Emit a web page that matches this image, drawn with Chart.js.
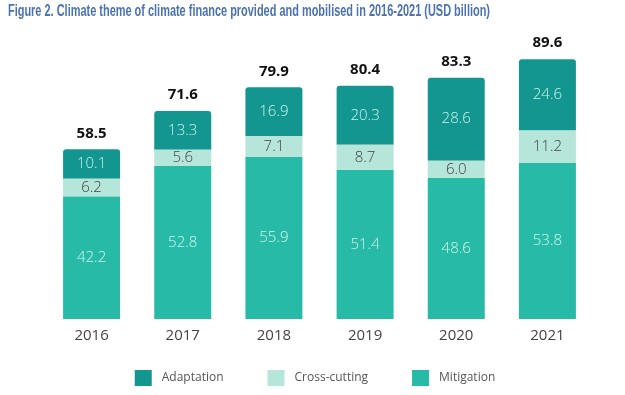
<!DOCTYPE html>
<html>
<head>
<meta charset="utf-8">
<script src="https://cdn.jsdelivr.net/npm/chart.js@4"></script>
<style>
  body { margin: 0; background: #fff; }
  #wrap { width: 625px; height: 395px; position: relative; }
</style>
</head>
<body>
<div id="wrap"><canvas id="grafico" width="625" height="395"></canvas></div>
<script>
// Dados
const anos = ["2016", "2017", "2018", "2019", "2020", "2021"];
const mitigacao = [42.2, 52.8, 55.9, 51.4, 48.6, 53.8];
const transversal = [6.2, 5.6, 7.1, 8.7, 6.0, 11.2];
const adaptacao = [10.1, 13.3, 16.9, 20.3, 28.6, 24.6];
const totais = [58.5, 71.6, 79.9, 80.4, 83.3, 89.6];

const titulo = "Figure 2. Climate theme of climate finance provided and mobilised in 2016-2021 (USD billion)";

// Rótulos nas barras, totais, título e legenda
const rotulos = {
  id: "rotulos",
  afterDatasetsDraw(chart) {
    const ctx = chart.ctx;
    ctx.save();
    ctx.textAlign = "center";
    ctx.textBaseline = "middle";
    chart.data.datasets.forEach((ds, i) => {
      const meta = chart.getDatasetMeta(i);
      meta.data.forEach((bar, j) => {
        ctx.font = "300 15px 'Open Sans'";
        ctx.fillStyle = ds.corTexto;
        ctx.fillText(ds.data[j].toFixed(1), bar.x, (bar.y + bar.base) / 2);
        if (i === chart.data.datasets.length - 1) {
          ctx.font = "bold 15px 'Open Sans'";
          ctx.fillStyle = "#111";
          ctx.fillText(totais[j].toFixed(1), bar.x, bar.y - 16);
        }
      });
    });
    ctx.restore();
  },
  afterDraw(chart) {
    const ctx = chart.ctx;
    // título condensado
    ctx.save();
    ctx.font = "bold 16px 'Liberation Sans'";
    ctx.fillStyle = "#4a72b0";
    ctx.textAlign = "left";
    ctx.textBaseline = "middle";
    const w = ctx.measureText(titulo).width;
    ctx.translate(8, 12);
    ctx.scale(482 / w, 1);
    ctx.fillText(titulo, 0, 0);
    ctx.restore();

    // legenda
    ctx.save();
    ctx.font = "12px 'Open Sans'";
    ctx.textBaseline = "middle";
    ctx.textAlign = "left";
    const itens = chart.data.datasets.slice().reverse();
    const larguras = itens.map(ds => 17 + 10 + ctx.measureText(ds.label).width);
    const total = larguras.reduce((a, b) => a + b, 0) + 44 * (itens.length - 1);
    let x = 315 - total / 2;
    const y = 378;
    itens.forEach((ds, k) => {
      ctx.fillStyle = ds.backgroundColor;
      ctx.fillRect(x, y - 8, 17, 16);
      ctx.fillStyle = "#555";
      ctx.fillText(ds.label, x + 27, y);
      x += larguras[k] + 44;
    });
    ctx.restore();
  }
};

const ctx = document.getElementById("grafico").getContext("2d");
new Chart(ctx, {
  type: "bar",
  data: {
    labels: anos,
    datasets: [
      {
        label: "Mitigation",
        data: mitigacao,
        backgroundColor: "#27bba7",
        corTexto: "#d2f4ef"
      },
      {
        label: "Cross-cutting",
        data: transversal,
        backgroundColor: "#b6e5da",
        corTexto: "#444"
      },
      {
        label: "Adaptation",
        data: adaptacao,
        backgroundColor: "#149690",
        borderRadius: { topLeft: 3, topRight: 3 },
        borderSkipped: false,
        corTexto: "#c8f1ec"
      }
    ]
  },
  options: {
    responsive: false,
    animation: false,
    barPercentage: 0.625,
    categoryPercentage: 1,
    layout: { padding: { left: 46, right: 32, top: 29, bottom: 50 } },
    scales: {
      x: {
        stacked: true,
        grid: { display: false },
        border: { display: false },
        ticks: { color: "#444", font: { family: "'Open Sans'", size: 15 }, padding: 0 }
      },
      y: { stacked: true, display: false, min: 0, max: 100 }
    },
    plugins: {
      tooltip: { enabled: false },
      legend: { display: false }
    }
  },
  plugins: [rotulos]
});
</script>
</body>
</html>
